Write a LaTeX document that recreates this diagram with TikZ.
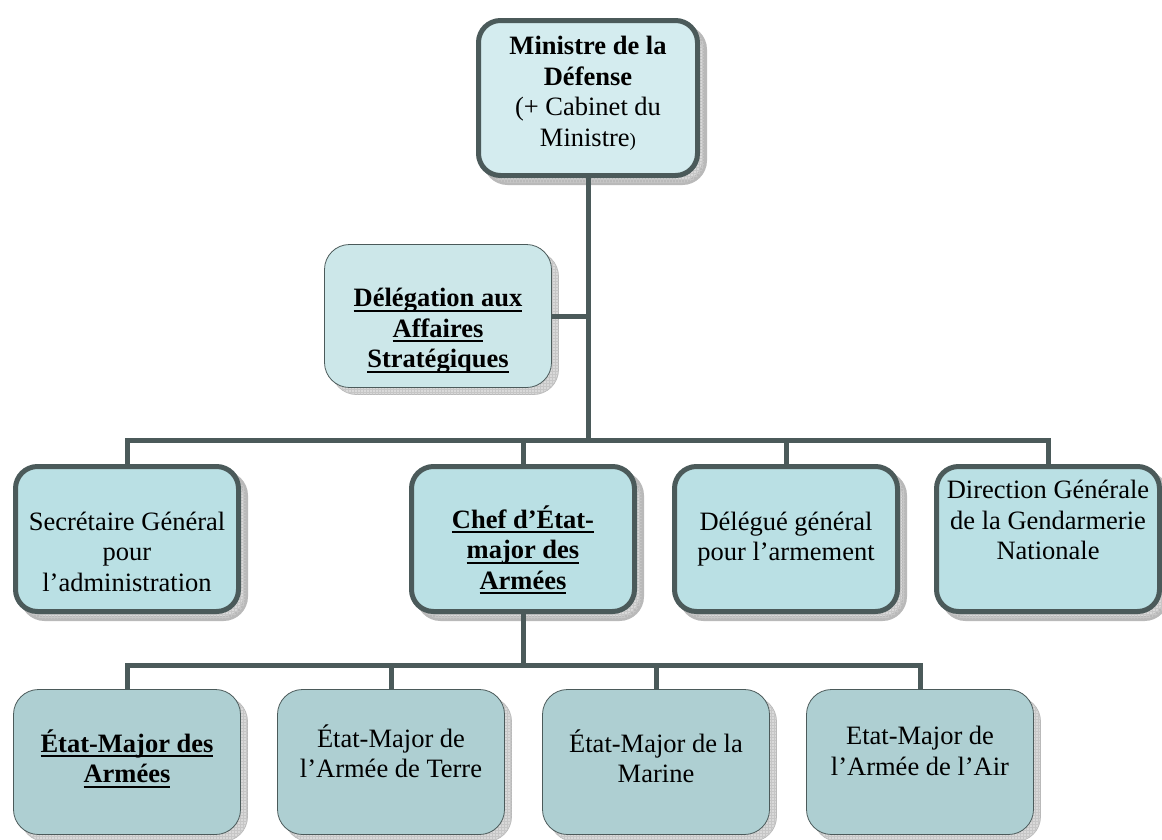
\documentclass[tikz,border=0pt]{standalone}
\usepackage{fontspec}
\setmainfont{Liberation Serif}
\usetikzlibrary{shadows, patterns}
\definecolor{linkgray}{RGB}{75,90,90}
\definecolor{topfill}{RGB}{212,236,239}
\definecolor{dasfill}{RGB}{204,231,233}
\definecolor{midfill}{RGB}{186,224,228}
\definecolor{lowfill}{RGB}{174,207,210}
\newcommand\bu[1]{\setbox0\hbox{\textbf{#1}}\leavevmode
    \rlap{\rule[-5pt]{\wd0}{1.8pt}}\box0}

\begin{document}
\begin{tikzpicture}
    [
        x=1pt, y=-1pt,
        font=\fontsize{26.5}{30.5}\selectfont,
        boxshadow/.style={drop shadow={shadow xshift=7pt, shadow yshift=-7pt,
                          fill=gray!30, draw=gray!55, opacity=1,
                          postaction={pattern=grid, pattern color=gray!45}}},
        heavybox/.style={rectangle, rounded corners=22pt, draw=linkgray,
                         line width=5pt, fill=midfill, align=center,
                         minimum width=223pt, minimum height=145pt, boxshadow},
        lightbox/.style={rectangle, rounded corners=25pt, draw=linkgray,
                         line width=0.8pt, fill=lowfill, align=center,
                         minimum width=227pt, minimum height=145pt, boxshadow},
        link/.style={draw=linkgray, line width=5pt}
    ]
    \useasboundingbox (0,0) rectangle (1162,839);
    % sommet et delegation
    \node (min) [heavybox, fill=topfill, minimum width=219pt, minimum height=155pt,
        text depth=13pt] at (588,98) {\textbf{Ministre de la}\\ \textbf{Défense}\\
        (+ Cabinet du\\ Ministre{\fontsize{19}{19}\selectfont)}};
    \node (das) [lightbox, fill=dasfill, minimum height=143pt, text height=109pt]
        at (438,316) {\bu{Délégation aux}\\ \bu{Affaires}\\ \bu{Stratégiques}};
    % second niveau
    \node (sga) [heavybox, text height=105pt] at (127,539)
        {Secrétaire Général\\ pour\\ l’administration};
    \node (cema) [heavybox, text height=105pt] at (523,539)
        {\bu{Chef d’État-}\\ \bu{major des}\\ \bu{Armées}};
    \node (dga) [heavybox] at (786,539) {Délégué général\\ pour l’armement};
    \node (dggn) [heavybox, text depth=38pt] at (1048,539)
        {Direction Générale\\ de la Gendarmerie\\ Nationale};
    % etats-majors
    \node (ema) [lightbox, text depth=12pt] at (127,762) {\bu{État-Major des}\\ \bu{Armées}};
    \node (emat) [lightbox, text depth=22pt] at (391,762) {État-Major de\\ l’Armée de Terre};
    \node (emm) [lightbox, text depth=12pt] at (656,762) {État-Major de la\\ Marine};
    \node (emaa) [lightbox, text depth=22pt] at (920,762) {Etat-Major de\\ l’Armée de l’Air};
    \coordinate (bus1) at (588,440);
    \coordinate (bus2) at (523,665);
    \draw [link] (min.south) -- (bus1);
    \draw [link] (das.east) -- (das.east -| bus1);
    \foreach \n in {sga,cema,dga,dggn}
        \draw [link] (bus1) -| (\n.north);
    \draw [link] (cema.south) -- (bus2);
    \foreach \n in {ema,emat,emm,emaa}
        \draw [link] (bus2) -| (\n.north);
\end{tikzpicture}
\end{document}
